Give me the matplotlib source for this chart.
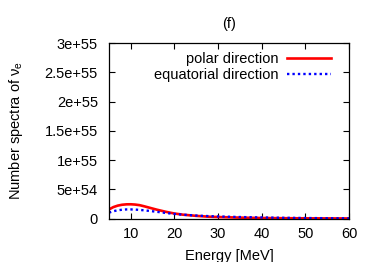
import matplotlib.pyplot as plt
import numpy as np

plt.rcParams['font.family'] = ['Liberation Sans', 'DejaVu Sans']
plt.rcParams['mathtext.default'] = 'regular'

# energy grid [MeV] and spectra (units of 1e54)
energy = [5, 6, 7, 8, 9, 10, 11, 12, 13, 14, 15, 16, 18, 20, 22, 25, 28, 30, 35, 40, 45, 50, 55, 60]
polar = [1.55, 1.95, 2.2, 2.35, 2.42, 2.43, 2.38, 2.28, 2.1, 1.9, 1.7, 1.5, 1.15, 0.85,
         0.65, 0.45, 0.3, 0.25, 0.15, 0.08, 0.05, 0.03, 0.02, 0.01]
equatorial = [1.0, 1.25, 1.4, 1.5, 1.55, 1.55, 1.52, 1.47, 1.4, 1.32, 1.23, 1.14, 0.95, 0.78,
              0.65, 0.5, 0.4, 0.35, 0.25, 0.18, 0.12, 0.08, 0.05, 0.03]

fig = plt.figure(figsize=(3.74, 2.62), dpi=100)
ax = fig.add_axes([109 / 374, 1 - 218.5 / 262, 240 / 374, 175.5 / 262])

e = np.array(energy)
ax.plot(e, np.array(polar) * 1e54, color='#ff0000', lw=1.9, label='polar direction')
ax.plot(e, np.array(equatorial) * 1e54, color='#0000ff', lw=1.7, ls=(0, (1, 1.3)),
        label='equatorial direction')

ax.set_xlim(5, 60)
ax.set_ylim(0, 3e55)
ax.set_xticks([10, 20, 30, 40, 50, 60])
yt = [0, 5e54, 1e55, 1.5e55, 2e55, 2.5e55, 3e55]
ax.set_yticks(yt)
ax.set_yticklabels(['0', '5e+54', '1e+55', '1.5e+55', '2e+55', '2.5e+55', '3e+55'])
ax.tick_params(direction='in', top=True, right=True, length=4, width=0.8, labelsize=10.5)
ax.tick_params(axis='y', pad=8)
ax.tick_params(axis='x', pad=6)
for s in ax.spines.values():
    s.set_linewidth(0.9)

ax.set_xlabel('Energy [MeV]', fontsize=10.5, labelpad=6)
ax.set_ylabel('Number spectra of ν$_e$', fontsize=10.5, labelpad=14)
ax.set_title('(f)', fontsize=10.5, pad=11)

ax.legend(loc='upper right', frameon=False, markerfirst=False, fontsize=10.5,
          handlelength=3, handletextpad=0.6, labelspacing=0.15,
          borderaxespad=0.2, bbox_to_anchor=(0.96, 1.0))

fig.savefig('out.png', dpi=100)
